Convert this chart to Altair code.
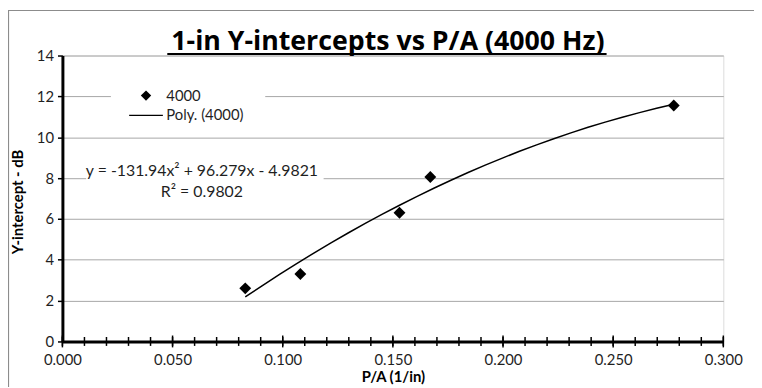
import altair as alt
import pandas as pd

# ---- data ----
pa_values = [0.083, 0.108, 0.153, 0.167, 0.2775]
y_intercepts = [2.6, 3.3, 6.3, 8.05, 11.55]
series_names = ["4000", "Poly. (4000)"]
x_major_ticks = [0.0, 0.05, 0.10, 0.15, 0.20, 0.25, 0.30]
x_minor_ticks = [0.00, 0.01, 0.02, 0.03, 0.04, 0.05, 0.06, 0.07, 0.08, 0.09,
                 0.10, 0.11, 0.12, 0.13, 0.14, 0.15, 0.16, 0.17, 0.18, 0.19,
                 0.20, 0.21, 0.22, 0.23, 0.24, 0.25, 0.26, 0.27, 0.28, 0.29, 0.30]
y_ticks = [0, 2, 4, 6, 8, 10, 12, 14]
title_text = "1-in Y-intercepts vs P/A (4000 Hz)"
x_title = "P/A (1/in)"
y_title = "Y-intercept - dB"
eq_line1 = "y = -131.94x\u00b2 + 96.279x - 4.9821"
eq_line2 = "R\u00b2 = 0.9802"

W, H = 668, 289
FONT = "Lato"
TITLE_FONT = "Open Sans"
TXT = "#1f1f1f"

df = pd.DataFrame({"pa": pa_values, "y": y_intercepts, "series": series_names[0]})
one = pd.DataFrame({"k": [0]})
minor_df = pd.DataFrame({"pa": x_minor_ticks})
major_df = pd.DataFrame({"pa": x_major_ticks})

x_scale = alt.Scale(domain=[0, 0.3], nice=False, zero=False)
y_scale = alt.Scale(domain=[0, 14], nice=False)

x_axis = alt.Axis(
    values=x_major_ticks, format=".3f", grid=False, ticks=False, tickSize=0,
    domainColor="black", domainWidth=3, labelFont=FONT, labelFontSize=15,
    labelColor=TXT, labelPadding=11, labelFlush=False, title=x_title,
    titleFont=FONT, titleFontSize=15, titleFontWeight="bold", titleColor="black",
    titleY=40, titleBaseline="alphabetic",
)
y_axis = alt.Axis(
    values=y_ticks, grid=True, gridColor="#a6a6a6", gridWidth=1,
    domainColor="black", domainWidth=3, tickColor="black", tickSize=5,
    tickWidth=1.5, labelFont=FONT, labelFontSize=15, labelColor=TXT,
    labelPadding=4, title=y_title, titleFont=FONT, titleFontSize=15,
    titleFontWeight="bold", titleColor="black", titleX=-37, titleY=H / 2 + 3,
)

# outer chart border
border = alt.Chart(one).mark_rect(fill=None, stroke="#8c8c8c", strokeWidth=1.2).encode(
    x=alt.value(-54.5), x2=alt.value(W + 200), y=alt.value(-45.5), y2=alt.value(H + 200)
)

# white boxes behind legend and equation
legend_bg = alt.Chart(one).mark_rect(fill="white").encode(
    x=alt.value(49), x2=alt.value(205), y=alt.value(30), y2=alt.value(72)
)
eq_bg = alt.Chart(one).mark_rect(fill="white").encode(
    x=alt.value(24), x2=alt.value(264), y=alt.value(108), y2=alt.value(148)
)

fit = alt.Chart(df).transform_regression(
    "pa", "y", method="poly", order=2
).mark_line(color="black", strokeWidth=1.5).encode(
    x=alt.X("pa:Q", scale=x_scale),
    y=alt.Y("y:Q", scale=y_scale),
)

points = alt.Chart(df).mark_point(filled=True, color="black", opacity=1, size=144).encode(
    x=alt.X("pa:Q", scale=x_scale, axis=x_axis),
    y=alt.Y("y:Q", scale=y_scale, axis=y_axis),
    shape=alt.Shape(
        "series:N",
        scale=alt.Scale(
            domain=series_names,
            range=["diamond", "M-3.25,-0.14L3.25,-0.14L3.25,0.14L-3.25,0.14Z"],
        ),
        legend=alt.Legend(
            title=None, orient="none", legendX=77, legendY=33, padding=0,
            symbolSize=110, symbolFillColor="black", symbolStrokeColor="black",
            symbolStrokeWidth=0, symbolOpacity=1, labelFont=FONT,
            labelFontSize=15, labelColor=TXT, labelOffset=13, rowPadding=4,
        ),
    ),
)

minor_ticks = alt.Chart(minor_df).mark_rule(color="black", strokeWidth=1.5).encode(
    x=alt.X("pa:Q", scale=x_scale), y=alt.value(H - 4.5), y2=alt.value(H + 4.5)
)
major_ticks = alt.Chart(major_df).mark_rule(color="black", strokeWidth=1.5).encode(
    x=alt.X("pa:Q", scale=x_scale), y=alt.value(H - 6), y2=alt.value(H + 6)
)

eq1 = alt.Chart(one).mark_text(font=FONT, fontSize=16, color=TXT, align="center",
                               baseline="alphabetic").encode(
    x=alt.value(141), y=alt.value(122), text=alt.value(eq_line1)
)
eq2 = alt.Chart(one).mark_text(font=FONT, fontSize=16, color=TXT, align="center",
                               baseline="alphabetic").encode(
    x=alt.value(141), y=alt.value(143), text=alt.value(eq_line2)
)

title = alt.Chart(one).mark_text(font=TITLE_FONT, fontSize=27, fontWeight="bold",
                                 color="black", align="center",
                                 baseline="alphabetic").encode(
    x=alt.value(329), y=alt.value(-6), text=alt.value(title_text)
)
underline = alt.Chart(one).mark_rule(color="black", strokeWidth=2).encode(
    x=alt.value(106), x2=alt.value(550), y=alt.value(-1.5)
)

chart = alt.layer(
    border, legend_bg, eq_bg, fit, minor_ticks, major_ticks, points, eq1, eq2,
    title, underline
).properties(
    width=W, height=H,
    autosize=alt.AutoSizeParams(type="none"),
    padding={"left": 55, "top": 46, "right": 31, "bottom": 44},
).configure_view(stroke="black", strokeWidth=2).configure(background="white")

chart.save("out.html", embed_options={"renderer": "svg", "actions": False})
